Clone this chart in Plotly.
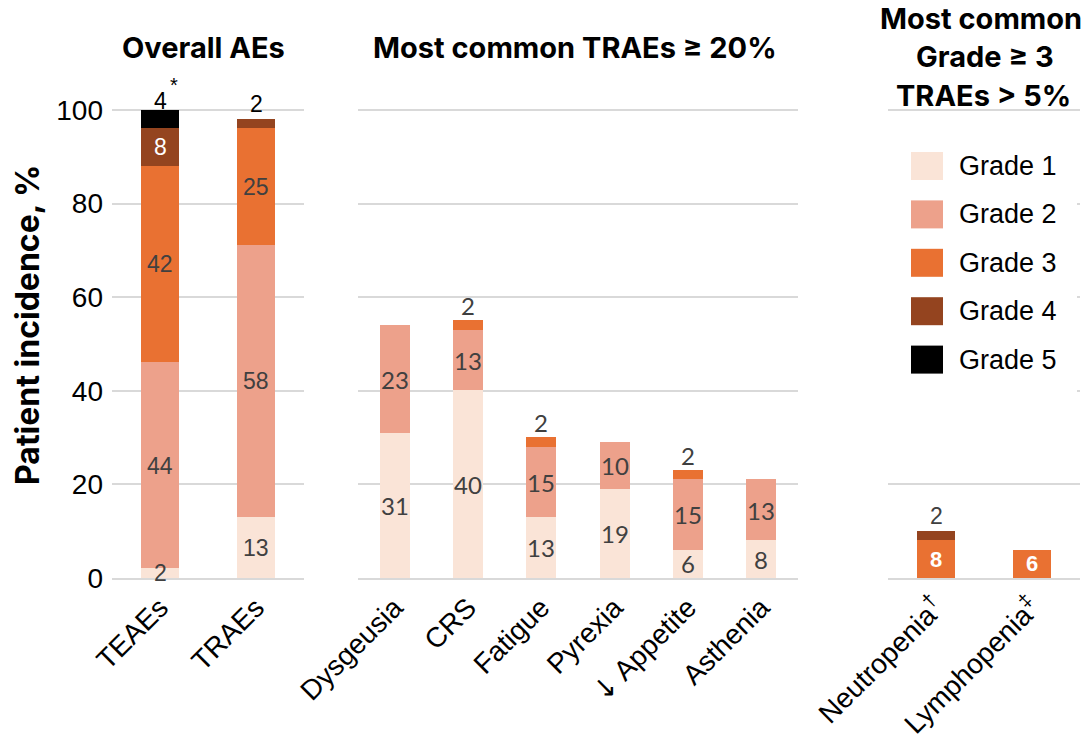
import plotly.graph_objects as go

W, H = 1086, 744

# Grades and their fill colours
grades = ["Grade 1", "Grade 2", "Grade 3", "Grade 4", "Grade 5"]
grade_colors = ["#FAE4D7", "#EDA18B", "#E97132", "#94441F", "#000000"]

# Overall AEs (% of patients by worst grade)
overall_cats = ["TEAEs", "TRAEs"]
overall_g1 = [2, 13]
overall_g2 = [44, 58]
overall_g3 = [42, 25]
overall_g4 = [8, 2]
overall_g5 = [4, 0]

# Most common TRAEs >= 20%
common_cats = ["Dysgeusia", "CRS", "Fatigue", "Pyrexia",
               "<span style='font-family:DejaVu Sans'>↓</span> Appetite", "Asthenia"]
common_g1 = [31, 40, 13, 19, 6, 8]
common_g2 = [23, 13, 15, 10, 15, 13]
common_g3 = [0, 2, 2, 0, 2, 0]

# Most common grade >= 3 TRAEs > 5%
severe_cats = ["Neutropenia<sup>†</sup>", "Lymphopenia<sup>‡</sup>"]
severe_g3 = [8, 6]
severe_g4 = [2, 0]

y_ticks = [0, 20, 40, 60, 80, 100]

GRID = "#D9D9D9"
SANS = "Liberation Sans, Arial, sans-serif"
TITLE_FONT = "Inter, Liberation Sans, sans-serif"
LABEL_GRAY = "#404040"


def px_x(p):
    return p / W


def px_y(p):
    return 1 - p / H


panels = [
    dict(ax="", cats=overall_cats, width=0.4,
         series=[overall_g1, overall_g2, overall_g3, overall_g4, overall_g5],
         grade_idx=[0, 1, 2, 3, 4], dom=(112, 304),
         inside=dict(family=SANS, size=23), inside_colors=[LABEL_GRAY, LABEL_GRAY, LABEL_GRAY, "white", "white"],
         above=dict(family=SANS, size=23, color="black")),
    dict(ax="2", cats=common_cats, width=0.41,
         series=[common_g1, common_g2, common_g3],
         grade_idx=[0, 1, 2], dom=(358, 798),
         inside=dict(family="Lato, sans-serif", size=24), inside_colors=[LABEL_GRAY] * 3,
         above=dict(family="Lato, sans-serif", size=24, color=LABEL_GRAY)),
    dict(ax="3", cats=severe_cats, width=0.4,
         series=[severe_g3, severe_g4],
         grade_idx=[2, 3], dom=(888, 1080),
         inside=dict(family=SANS, size=22, weight="bold"),
         inside_colors=["white", "white"],
         above=dict(family=SANS, size=23, color=LABEL_GRAY)),
]

fig = go.Figure()
annotations = []
above_shift = {"TEAEs": 9}

for p in panels:
    xa, ya = "x" + p["ax"], "y" + p["ax"]
    for vals, gi in zip(p["series"], p["grade_idx"]):
        fig.add_trace(go.Bar(
            x=p["cats"], y=[v if v else None for v in vals],
            name=grades[gi], marker=dict(color=grade_colors[gi], line=dict(width=0)),
            width=p["width"], xaxis=xa, yaxis=ya, showlegend=False, hoverinfo="skip",
        ))
    # segment labels
    for ci, cat in enumerate(p["cats"]):
        segs = [(vals[ci], k) for k, vals in enumerate(p["series"]) if vals[ci]]
        total = sum(v for v, _ in segs)
        cum = 0
        for si, (v, k) in enumerate(segs):
            is_top = si == len(segs) - 1
            if is_top and v <= 4 and len(segs) > 1:
                annotations.append(dict(
                    x=cat, y=total, xref=xa, yref=ya, text=str(v), showarrow=False,
                    yanchor="middle", yshift=above_shift.get(cat, 15), font=p["above"]))
            else:
                f = dict(p["inside"])
                f["color"] = p["inside_colors"][k]
                annotations.append(dict(
                    x=cat, y=cum + v / 2, xref=xa, yref=ya, text=str(v), showarrow=False,
                    yanchor="middle", font=f))
            cum += v

# footnote marker on the TEAE grade 5 label
teae_total = overall_g1[0] + overall_g2[0] + overall_g3[0] + overall_g4[0] + overall_g5[0]
annotations.append(dict(x="TEAEs", y=teae_total, xref="x", yref="y", text="*", showarrow=False,
                        yanchor="middle", xshift=14, yshift=25,
                        font=dict(family=SANS, size=20, color="black")))

# panel titles
title_font = dict(family=TITLE_FONT, size=29, color="black", weight="bold")
for text, cx, cy in [("Overall AEs", 203, 47.5), ("Most common TRAEs ≥ 20%", 575, 47.5),
                     ("Most common", 981, 18.5), ("Grade ≥ 3", 985, 56.5), ("TRAEs > 5%", 983, 95)]:
    annotations.append(dict(x=px_x(cx), y=px_y(cy), xref="paper", yref="paper", text=text,
                            showarrow=False, xanchor="center", yanchor="middle", font=title_font))

# y-axis title
annotations.append(dict(x=px_x(28), y=px_y(325), xref="paper", yref="paper",
                        text="Patient incidence, %", textangle=-90, showarrow=False,
                        xanchor="center", yanchor="middle",
                        font=dict(family=TITLE_FONT, size=32, color="black", weight="bold")))

# legend drawn as shapes + text
shapes = [dict(type="rect", xref="paper", yref="paper", layer="above",
               x0=px_x(886), x1=px_x(1077), y0=px_y(396), y1=px_y(125),
               fillcolor="white", line=dict(width=0))]
for i, (g, c) in enumerate(zip(grades, grade_colors)):
    cy = 166 + i * 48.4
    shapes.append(dict(type="rect", xref="paper", yref="paper", layer="above",
                       x0=px_x(911), x1=px_x(943), y0=px_y(cy + 14), y1=px_y(cy - 14),
                       fillcolor=c, line=dict(width=0)))
    annotations.append(dict(x=px_x(957), y=px_y(cy), xref="paper", yref="paper", text=g,
                            showarrow=False, xanchor="left", yanchor="middle",
                            font=dict(family=SANS, size=27, color="black")))

y_dom = [px_y(578), px_y(578 - 101 * 4.68)]

layout = dict(
    width=W, height=H, barmode="stack", bargap=0,
    margin=dict(l=0, r=0, t=0, b=0),
    plot_bgcolor="white", paper_bgcolor="white",
    annotations=annotations, shapes=shapes, showlegend=False,
)

for p in panels:
    s = p["ax"]
    layout["xaxis" + s] = dict(
        domain=[px_x(p["dom"][0]), px_x(p["dom"][1])], anchor="y" + s, type="category",
        showline=True, linecolor=GRID, linewidth=2, showgrid=False, ticks="",
        tickangle=-45, tickfont=dict(family=SANS, size=28, color="black"), automargin=False,
    )
    layout["yaxis" + s] = dict(
        domain=y_dom, anchor="x" + s, range=[0, 101], tickvals=y_ticks,
        showgrid=True, gridcolor=GRID, gridwidth=1.5, zeroline=False, showline=False,
        showticklabels=(s == ""), ticklabelstandoff=8,
        tickfont=dict(family=SANS, size=28, color="black"), automargin=False,
    )

fig.update_layout(**layout)
fig.write_html("out.html")
